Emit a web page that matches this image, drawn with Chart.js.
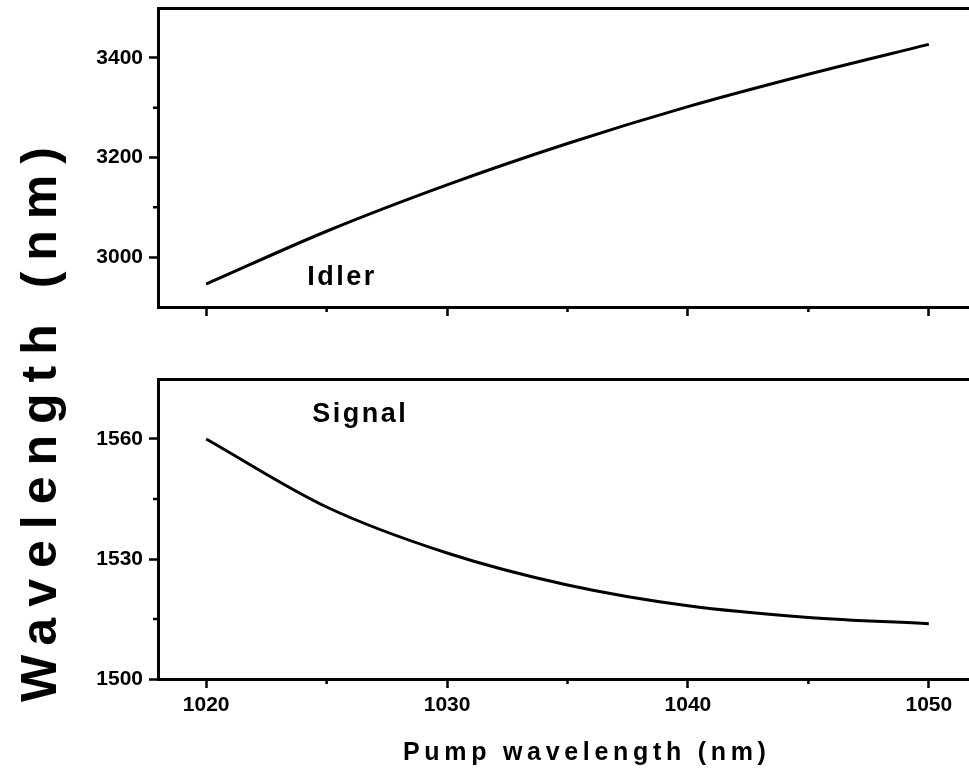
<!DOCTYPE html>
<html>
<head>
<meta charset="utf-8">
<script src="https://cdn.jsdelivr.net/npm/chart.js@4.4.1/dist/chart.umd.min.js"></script>
<style>
  html, body { margin: 0; padding: 0; background: #fff; overflow: hidden; }
  #wrap { position: relative; width: 969px; height: 770px; overflow: hidden; }
  canvas { position: absolute; left: 0; }
  #topChart { top: 0; }
  #bottomChart { top: 330px; }
  .axisTitle { position: absolute; font-family: 'Liberation Sans', Arial, sans-serif; font-weight: bold; color: #000; white-space: nowrap; }
  #yTitle { font-size: 50px; line-height: 50px; letter-spacing: 11px; left: 39px; top: 419px; transform: translate(-50%, -50%) rotate(-90deg); }
  #xTitle { font-size: 25px; line-height: 25px; letter-spacing: 4.7px; left: 403px; top: 739px; }
</style>
</head>
<body>
<div id="wrap">
  <canvas id="topChart" width="977" height="330"></canvas>
  <canvas id="bottomChart" width="977" height="440"></canvas>
  <div class="axisTitle" id="yTitle">Wavelength (nm)</div>
  <div class="axisTitle" id="xTitle">Pump wavelength (nm)</div>
</div>
<script>
// values
const pumpNm = [1020, 1025, 1030, 1035, 1040, 1045, 1050];
const idlerNm = [2946, 3052, 3145, 3228, 3302, 3367, 3427];
const signalNm = [1560, 1543, 1531.5, 1523.5, 1518.3, 1515.4, 1513.8];

const pumpTicks = [1020, 1030, 1040, 1050];
const pumpMinor = [1025, 1035, 1045];
const idlerTicks = [3000, 3200, 3400];
const idlerMinor = [3100, 3300];
const signalTicks = [1500, 1530, 1560];
const signalMinor = [1515, 1545];

const FONT = "'Liberation Sans', Arial, sans-serif";

// short ticks between the labelled ones
const minorTicks = {
  id: 'minorTicks',
  afterDraw: function (chart, args, opts) {
    const ctx = chart.ctx;
    const xs = chart.scales.x;
    const ys = chart.scales.y;

    ctx.save();
    ctx.strokeStyle = '#000';
    ctx.lineWidth = 2.5;
    ctx.beginPath();
    for (let v of opts.xMinor) {
      const px = xs.getPixelForValue(v);
      ctx.moveTo(px, xs.top);
      ctx.lineTo(px, xs.top + 5);
    }
    for (let v of opts.yMinor) {
      const py = ys.getPixelForValue(v);
      ctx.moveTo(ys.right, py);
      ctx.lineTo(ys.right - 5, py);
    }
    ctx.stroke();
    ctx.restore();
  }
};

// "Idler" / "Signal" text inside the panels
const panelLabel = {
  id: 'panelLabel',
  afterDatasetsDraw: function (chart, args, opts) {
    const ctx = chart.ctx;
    ctx.save();
    ctx.font = 'bold 27px ' + FONT;
    ctx.letterSpacing = '2.5px';
    ctx.fillStyle = '#000';
    ctx.textBaseline = 'alphabetic';
    ctx.fillText(opts.text, chart.scales.x.getPixelForValue(opts.x), chart.scales.y.getPixelForValue(opts.y));
    ctx.restore();
  }
};

function plainNumber(value) {
  return String(value);
}

function makePanel(canvasId, values, yMin, yMax, yTicks, yMinor, showXLabels, padTop, xHeight, label) {
  const points = pumpNm.map(function (p, i) { return {x: p, y: values[i]}; });

  return new Chart(document.getElementById(canvasId), {
    type: 'line',
    data: {
      datasets: [{
        data: points,
        borderColor: '#000',
        borderWidth: 3,
        pointRadius: 0,
        cubicInterpolationMode: 'monotone',
        fill: false,
      }]
    },
    options: {
      responsive: false,
      animation: false,
      events: [],
      layout: {padding: {top: padTop, left: 0, right: 0, bottom: 0}},
      plugins: {
        legend: {display: false},
        tooltip: {enabled: false},
        minorTicks: {xMinor: pumpMinor, yMinor: yMinor},
        panelLabel: label,
      },
      scales: {
        x: {
          type: 'linear',
          position: 'bottom',
          min: 1018,
          max: 1052,
          afterBuildTicks: function (scale) { scale.ticks = pumpTicks.map(function (v) { return {value: v}; }); },
          afterFit: function (scale) {
            scale.height = xHeight;
            scale.paddingLeft = 0;
            scale.paddingRight = 0;
          },
          grid: {drawOnChartArea: false, tickLength: 9, tickWidth: 2.5, tickColor: '#000'},
          border: {display: true, width: 3, color: '#000'},
          ticks: {
            display: showXLabels,
            color: '#000',
            padding: 5,
            maxRotation: 0,
            callback: plainNumber,
            font: {family: FONT, size: 21, weight: 'bold'},
          },
        },
        xTop: {
          type: 'linear',
          position: 'top',
          min: 1018,
          max: 1052,
          afterFit: function (scale) {
            scale.height = 0;
            scale.paddingLeft = 0;
            scale.paddingRight = 0;
          },
          grid: {drawOnChartArea: false, drawTicks: false},
          border: {display: true, width: 3, color: '#000'},
          ticks: {display: false},
        },
        y: {
          type: 'linear',
          position: 'left',
          min: yMin,
          max: yMax,
          afterBuildTicks: function (scale) { scale.ticks = yTicks.map(function (v) { return {value: v}; }); },
          afterFit: function (scale) {
            scale.width = 158;
            scale.paddingTop = 0;
            scale.paddingBottom = 0;
          },
          grid: {drawOnChartArea: false, tickLength: 9, tickWidth: 2.5, tickColor: '#000'},
          border: {display: true, width: 3, color: '#000'},
          ticks: {
            color: '#000',
            padding: 6,
            callback: plainNumber,
            font: {family: FONT, size: 21, weight: 'bold'},
          },
        },
      },
    },
    plugins: [minorTicks, panelLabel],
  });
}

makePanel('topChart', idlerNm, 2900, 3500, idlerTicks, idlerMinor, false, 8, 23,
  {text: 'Idler', x: 1024.2, y: 2944});
makePanel('bottomChart', signalNm, 1500, 1575, signalTicks, signalMinor, true, 49, 91,
  {text: 'Signal', x: 1024.4, y: 1564.3});
</script>
</body>
</html>
